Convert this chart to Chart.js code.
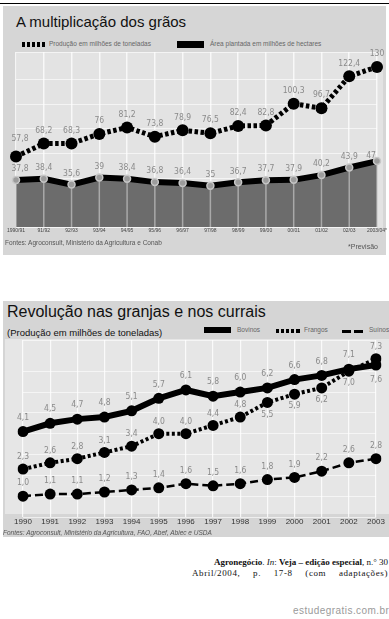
<!DOCTYPE html>
<html><head><meta charset="utf-8">
<script src="https://cdn.jsdelivr.net/npm/chart.js@4/dist/chart.umd.min.js"></script>
<style>
body{margin:0;width:389px;height:619px;background:#fff;position:relative;overflow:hidden;font-family:"Liberation Sans",Arial,sans-serif}
.a{position:absolute;white-space:nowrap}
.lg{font-size:6.5px;color:#666}
</style></head><body>
<!-- chart 1 frame -->
<div class="a" style="left:0;top:3px;width:389px;height:1px;background:#000"></div>
<div class="a" style="left:3px;top:6px;width:383px;height:249px;background:#d6d6d6"></div>
<div class="a" style="left:17px;top:52px;width:366px;height:176px;background:#e3e3e3"></div>
<div class="a" style="left:16px;top:13px;font-size:15px;color:#111">A multiplicação dos grãos</div>
<div class="a" style="left:22px;top:42px;width:23px;height:5px;background:repeating-linear-gradient(to right,#000 0 3.5px,transparent 3.5px 5px)"></div>
<div class="a lg" style="left:49px;top:40px">Produção em milhões de toneladas</div>
<div class="a" style="left:177px;top:41px;width:27px;height:7px;background:#000"></div>
<div class="a lg" style="left:210px;top:40px">Área plantada em milhões de hectares</div>
<div class="a" style="left:0;top:0;width:389px;height:245px"><canvas id="c1"></canvas></div>
<div class="a" style="left:5px;top:239px;font-size:6.5px;color:#555">Fontes: Agroconsult, Ministério da Agricultura e Conab</div>
<div class="a" style="left:348px;top:243px;font-size:7px;color:#555">*Previsão</div>

<!-- chart 2 frame -->
<div class="a" style="left:3px;top:301px;width:386px;height:236px;background:#d5d5d5"></div>
<div class="a" style="left:5px;top:339px;width:384px;height:175px;background:#e6e6e6"></div>
<div class="a" style="left:7px;top:303px;font-size:16px;color:#111">Revolução nas granjas e nos currais</div>
<div class="a" style="left:7px;top:327px;font-size:9.5px;color:#111">(Produção em milhões de toneladas)</div>
<div class="a" style="left:204px;top:327px;width:27px;height:6px;background:#000"></div>
<div class="a lg" style="left:237px;top:326px">Bovinos</div>
<div class="a" style="left:276px;top:329px;width:24px;height:4px;background:repeating-linear-gradient(to right,#000 0 3.5px,transparent 3.5px 5px)"></div>
<div class="a lg" style="left:304px;top:326px">Frangos</div>
<div class="a" style="left:342px;top:330px;width:22px;height:3px;background:repeating-linear-gradient(to right,#000 0 9px,transparent 9px 12px)"></div>
<div class="a lg" style="left:369px;top:326px">Suínos</div>
<div class="a" style="left:0;top:300px;width:389px;height:240px"><canvas id="c2"></canvas></div>
<div class="a" style="left:3px;top:529px;font-size:6.5px;color:#555;font-style:italic">Fontes: Agroconsult, Ministério da Agricultura, FAO, Abef, Abiec e USDA</div>

<!-- citation -->
<div class="a" style="right:1px;top:557px;font-family:'Liberation Serif','Times New Roman',serif;font-size:9px;color:#111"><b>Agronegócio</b>. <i>In</i>: <b>Veja – edição especial</b>, n.° 30</div>
<div class="a" style="left:192px;top:568px;width:196px;font-family:'Liberation Serif','Times New Roman',serif;font-size:9px;color:#111;white-space:normal;text-align:justify;text-align-last:justify;letter-spacing:0.6px">Abril/2004, p. 17-8 (com adaptações)</div>
<div class="a" style="left:293px;top:605px;font-size:10px;color:#9a9a9a;letter-spacing:0.45px">estudegratis.com.br</div>

<script>
// ---------- data ----------
const safras = ['1990/91','91/92','92/93','93/94','94/95','95/96','96/97','97/98','98/99','99/00','00/01','01/02','02/03','2003/04*'];
const producaoGraos = [57.8, 68.2, 68.3, 76, 81.2, 73.8, 78.9, 76.5, 82.4, 82.8, 100.3, 96.7, 122.4, 130];
const areaPlantada = [37.8, 38.4, 35.6, 39, 38.4, 36.8, 36.4, 35, 36.7, 37.7, 37.9, 40.2, 43.9, 47];

const anos = ['1990','1991','1992','1993','1994','1995','1996','1997','1998','1999','2000','2001','2002','2003'];
const bovinos = [4.1, 4.5, 4.7, 4.8, 5.1, 5.7, 6.1, 5.8, 6.0, 6.2, 6.6, 6.8, 7.1, 7.3];
const frangos = [2.3, 2.6, 2.8, 3.1, 3.4, 4.0, 4.0, 4.4, 4.8, 5.5, 5.9, 6.2, 7.0, 7.6];
const suinos  = [1.0, 1.1, 1.1, 1.2, 1.3, 1.4, 1.6, 1.5, 1.6, 1.8, 1.9, 2.2, 2.6, 2.8];

// ---------- helpers ----------
const fmtAuto = v => String(v).replace('.', ',');
const fmtFixed = v => v.toFixed(1).replace('.', ',');
const LABEL_FONT = "8.5px 'Liberation Sans Narrow','DejaVu Sans Condensed','Liberation Sans',sans-serif";

const labelPlugin = {
  id: 'vlabels',
  afterDatasetsDraw(chart) {
    const ctx = chart.ctx;
    chart.data.datasets.forEach((ds, di) => {
      const o = ds.vlabel; if (!o) return;
      const meta = chart.getDatasetMeta(di);
      ctx.save();
      ctx.font = LABEL_FONT; ctx.fillStyle = o.color || '#8a8a8a';
      ctx.textAlign = 'center'; ctx.textBaseline = 'middle';
      meta.data.forEach((pt, i) => {
        let off = o.offset;
        if (o.belowFrom !== undefined && i >= o.belowFrom) off = o.below;
        let dx = 0;
        if (o.override && o.override[i]) { off = o.override[i][1]; dx = o.override[i][0]; }
        ctx.fillText(o.fmt(ds.data[i]), pt.x + dx, pt.y + off);
      });
      ctx.restore();
    });
  }
};
const dropPlugin = {
  id: 'drops',
  beforeDatasetDraw(chart, args) {
    // nothing
  },
  afterDatasetDraw(chart, args) {
    const ds = chart.data.datasets[args.index];
    if (!ds.dropLines) return;
    const meta = args.meta, ctx = chart.ctx, b = chart.chartArea.bottom;
    ctx.save();
    ctx.strokeStyle = 'rgba(190,190,190,0.75)'; ctx.lineWidth = 1.5;
    meta.data.forEach(pt => { ctx.beginPath(); ctx.moveTo(pt.x, pt.y + 3); ctx.lineTo(pt.x, b); ctx.stroke(); });
    ctx.restore();
  }
};

Chart.defaults.font.family = "'Liberation Sans',Arial,sans-serif";

// ---------- chart 1 ----------
new Chart(document.getElementById('c1'), {
  type: 'line',
  data: {
    labels: safras,
    datasets: [
      {
        label: 'Produção em milhões de toneladas', data: producaoGraos, yAxisID: 'yP',
        borderColor: '#000', borderWidth: 5, borderDash: [3.5, 2.5], borderCapStyle: 'butt',
        pointRadius: 6, pointBackgroundColor: '#000', pointBorderWidth: 0, tension: 0, fill: false, order: 1,
        vlabel: { offset: -13, fmt: fmtAuto, override: { 0: [4, -18] } }
      },
      {
        label: 'Área plantada em milhões de hectares', data: areaPlantada, yAxisID: 'yA',
        borderColor: '#000', borderWidth: 6, backgroundColor: '#6c6c6c', fill: 'start',
        pointRadius: 3.5, pointBackgroundColor: '#9c9c9c', pointBorderColor: '#c8c8c8', pointBorderWidth: 1.5,
        tension: 0, order: 2, dropLines: true,
        vlabel: { offset: -11, fmt: fmtAuto, override: { 0: [4, -11], 13: [-6, -5] } }
      }
    ]
  },
  options: {
    responsive: true, maintainAspectRatio: false, animation: false,
    layout: { padding: { left: 16, right: 12, top: 52, bottom: 10 }, autoPadding: false },
    plugins: { legend: { display: false }, tooltip: { enabled: false } },
    scales: {
      x: { offset: false, grid: { color: 'rgba(255,255,255,0.75)', lineWidth: 1.5, drawTicks: false }, border: { display: false },
           ticks: { color: '#444', font: { size: 5 }, padding: 1, maxRotation: 0, autoSkip: false } },
      yP: { display: true, position: 'left', min: 1, max: 142,
            ticks: { display: false, stepSize: 20 }, grid: { color: 'rgba(255,255,255,0.6)', drawTicks: false }, border: { display: false } },
      yA: { display: false, min: 15, max: 100 }
    }
  },
  plugins: [dropPlugin, labelPlugin]
});

// ---------- chart 2 ----------
new Chart(document.getElementById('c2'), {
  type: 'line',
  data: {
    labels: anos,
    datasets: [
      { label: 'Bovinos', data: bovinos, borderColor: '#000', borderWidth: 6, pointRadius: 5.5,
        pointBackgroundColor: '#000', pointBorderWidth: 0, tension: 0,
        vlabel: { offset: -14, fmt: fmtFixed, override: { 13: [0, -18] } } },
      { label: 'Frangos', data: frangos, borderColor: '#000', borderWidth: 4, borderDash: [3, 2.5], borderCapStyle: 'butt',
        pointRadius: 5.5, pointBackgroundColor: '#000', pointBorderWidth: 0, tension: 0,
        vlabel: { offset: -12, belowFrom: 9, below: 12, fmt: fmtFixed, override: { 13: [0, 21] } } },
      { label: 'Suínos', data: suinos, borderColor: '#000', borderWidth: 2.5, borderDash: [8, 4],
        pointRadius: 5.5, pointBackgroundColor: '#000', pointBorderWidth: 0, tension: 0,
        vlabel: { offset: -13, fmt: fmtFixed } }
    ]
  },
  options: {
    responsive: true, maintainAspectRatio: false, animation: false,
    layout: { padding: { left: 23, right: 13, top: 40, bottom: 13.4 }, autoPadding: false },
    plugins: { legend: { display: false }, tooltip: { enabled: false } },
    scales: {
      x: { offset: false, grid: { color: 'rgba(255,255,255,0.8)', lineWidth: 1.2, drawTicks: false }, border: { display: false },
           ticks: { color: '#333', font: { size: 8 }, padding: 0, maxRotation: 0, autoSkip: false } },
      y: { min: 0, max: 8.5, ticks: { display: false, stepSize: 1 },
           grid: { color: 'rgba(255,255,255,0.6)', drawTicks: false }, border: { display: false } }
    }
  },
  plugins: [labelPlugin]
});
</script>
</body></html>
